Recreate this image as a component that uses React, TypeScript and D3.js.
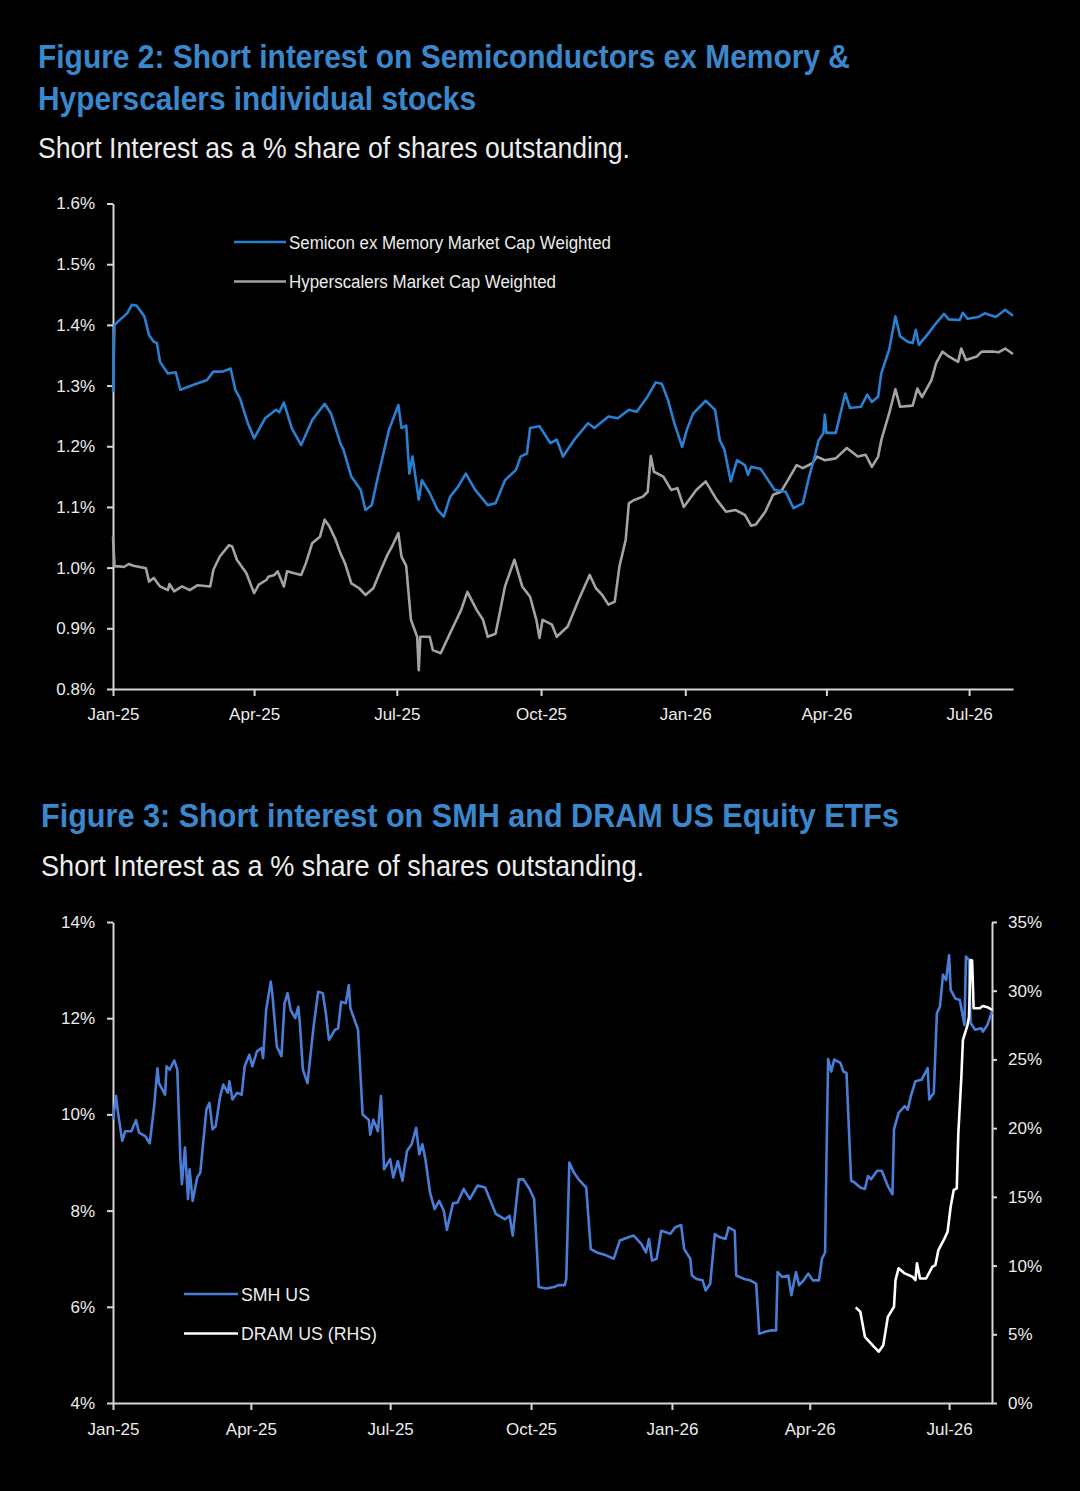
import { useEffect, useRef } from "react";
import * as d3 from "d3";

type Row = [string, number];

// Figure 2 - short interest, % of shares outstanding
const semiconExMemory: Row[] = [
  ["2025-01-01", 1.29], ["2025-01-02", 1.4], ["2025-01-04", 1.405], ["2025-01-10", 1.419],
  ["2025-01-13", 1.433], ["2025-01-16", 1.432], ["2025-01-21", 1.414], ["2025-01-24", 1.383],
  ["2025-01-27", 1.372], ["2025-01-29", 1.37], ["2025-01-31", 1.339], ["2025-02-05", 1.32],
  ["2025-02-10", 1.322], ["2025-02-13", 1.293], ["2025-02-21", 1.301], ["2025-03-02", 1.309],
  ["2025-03-06", 1.323], ["2025-03-12", 1.323], ["2025-03-17", 1.328], ["2025-03-20", 1.293],
  ["2025-03-23", 1.279], ["2025-03-28", 1.238], ["2025-04-01", 1.213], ["2025-04-08", 1.246],
  ["2025-04-15", 1.26], ["2025-04-17", 1.256], ["2025-04-20", 1.272], ["2025-04-25", 1.23],
  ["2025-05-01", 1.202], ["2025-05-08", 1.243], ["2025-05-16", 1.27], ["2025-05-20", 1.254],
  ["2025-05-26", 1.205], ["2025-05-28", 1.194], ["2025-06-02", 1.15], ["2025-06-08", 1.128],
  ["2025-06-11", 1.095], ["2025-06-15", 1.103], ["2025-06-19", 1.15], ["2025-06-26", 1.227],
  ["2025-07-02", 1.268], ["2025-07-04", 1.23], ["2025-07-07", 1.234], ["2025-07-09", 1.155],
  ["2025-07-11", 1.183], ["2025-07-15", 1.112], ["2025-07-17", 1.144], ["2025-07-22", 1.123],
  ["2025-07-27", 1.095], ["2025-07-31", 1.084], ["2025-08-04", 1.117], ["2025-08-09", 1.133],
  ["2025-08-14", 1.155], ["2025-08-20", 1.128], ["2025-08-28", 1.103], ["2025-09-02", 1.106],
  ["2025-09-08", 1.144], ["2025-09-15", 1.161], ["2025-09-18", 1.183], ["2025-09-22", 1.188],
  ["2025-09-24", 1.23], ["2025-09-30", 1.233], ["2025-10-07", 1.205], ["2025-10-11", 1.211],
  ["2025-10-15", 1.183], ["2025-10-22", 1.21], ["2025-10-31", 1.238], ["2025-11-04", 1.23],
  ["2025-11-13", 1.249], ["2025-11-19", 1.246], ["2025-11-26", 1.26], ["2025-12-01", 1.257],
  ["2025-12-08", 1.282], ["2025-12-13", 1.305], ["2025-12-17", 1.303], ["2025-12-21", 1.276],
  ["2025-12-25", 1.238], ["2025-12-30", 1.199], ["2026-01-02", 1.227], ["2026-01-06", 1.254],
  ["2026-01-14", 1.275], ["2026-01-20", 1.26], ["2026-01-23", 1.21], ["2026-01-26", 1.194],
  ["2026-01-30", 1.142], ["2026-02-03", 1.177], ["2026-02-08", 1.169], ["2026-02-10", 1.153],
  ["2026-02-12", 1.166], ["2026-02-18", 1.163], ["2026-02-27", 1.128], ["2026-03-06", 1.125],
  ["2026-03-11", 1.098], ["2026-03-17", 1.106], ["2026-03-21", 1.15], ["2026-03-25", 1.188],
  ["2026-03-27", 1.21], ["2026-03-30", 1.221], ["2026-03-31", 1.252], ["2026-04-01", 1.222],
  ["2026-04-07", 1.222], ["2026-04-13", 1.287], ["2026-04-16", 1.263], ["2026-04-23", 1.265],
  ["2026-04-27", 1.285], ["2026-04-30", 1.273], ["2026-05-04", 1.282], ["2026-05-06", 1.32],
  ["2026-05-11", 1.359], ["2026-05-15", 1.414], ["2026-05-18", 1.381], ["2026-05-23", 1.372],
  ["2026-05-26", 1.37], ["2026-05-28", 1.392], ["2026-05-30", 1.367], ["2026-06-05", 1.386],
  ["2026-06-10", 1.403], ["2026-06-15", 1.418], ["2026-06-18", 1.409], ["2026-06-25", 1.408],
  ["2026-06-27", 1.42], ["2026-06-30", 1.41], ["2026-07-07", 1.413], ["2026-07-11", 1.419],
  ["2026-07-18", 1.413], ["2026-07-24", 1.425], ["2026-07-29", 1.415],
];

const hyperscalers: Row[] = [
  ["2025-01-01", 1.051], ["2025-01-02", 1.002], ["2025-01-05", 1.002], ["2025-01-08", 1.001],
  ["2025-01-11", 1.006], ["2025-01-14", 1.003], ["2025-01-22", 0.999], ["2025-01-24", 0.977],
  ["2025-01-27", 0.983], ["2025-01-31", 0.969], ["2025-02-05", 0.963], ["2025-02-06", 0.973],
  ["2025-02-09", 0.961], ["2025-02-14", 0.969], ["2025-02-19", 0.963], ["2025-02-24", 0.971],
  ["2025-03-04", 0.969], ["2025-03-06", 0.996], ["2025-03-10", 1.018], ["2025-03-16", 1.037],
  ["2025-03-18", 1.035], ["2025-03-21", 1.013], ["2025-03-27", 0.991], ["2025-04-01", 0.958],
  ["2025-04-04", 0.972], ["2025-04-09", 0.98], ["2025-04-10", 0.985], ["2025-04-14", 0.988],
  ["2025-04-16", 0.994], ["2025-04-20", 0.969], ["2025-04-22", 0.994], ["2025-04-26", 0.991],
  ["2025-05-01", 0.988], ["2025-05-04", 1.007], ["2025-05-08", 1.04], ["2025-05-13", 1.051],
  ["2025-05-16", 1.079], ["2025-05-19", 1.068], ["2025-05-23", 1.046], ["2025-05-26", 1.024],
  ["2025-05-29", 1.007], ["2025-06-02", 0.974], ["2025-06-07", 0.966], ["2025-06-11", 0.955],
  ["2025-06-16", 0.966], ["2025-06-20", 0.991], ["2025-06-25", 1.021], ["2025-06-28", 1.035],
  ["2025-07-02", 1.057], ["2025-07-04", 1.018], ["2025-07-07", 1.003], ["2025-07-10", 0.914],
  ["2025-07-14", 0.886], ["2025-07-15", 0.831], ["2025-07-16", 0.886], ["2025-07-22", 0.886],
  ["2025-07-24", 0.864], ["2025-07-29", 0.859], ["2025-08-02", 0.881], ["2025-08-06", 0.903],
  ["2025-08-11", 0.93], ["2025-08-15", 0.96], ["2025-08-21", 0.93], ["2025-08-25", 0.914],
  ["2025-08-28", 0.886], ["2025-09-02", 0.891], ["2025-09-08", 0.969], ["2025-09-14", 1.013],
  ["2025-09-19", 0.969], ["2025-09-24", 0.952], ["2025-09-28", 0.914], ["2025-09-30", 0.884],
  ["2025-10-02", 0.914], ["2025-10-08", 0.906], ["2025-10-11", 0.886], ["2025-10-18", 0.903],
  ["2025-10-25", 0.947], ["2025-11-01", 0.988], ["2025-11-05", 0.966], ["2025-11-09", 0.955],
  ["2025-11-13", 0.939], ["2025-11-17", 0.944], ["2025-11-20", 1.002], ["2025-11-24", 1.046],
  ["2025-11-26", 1.106], ["2025-11-29", 1.111], ["2025-12-05", 1.117], ["2025-12-08", 1.125],
  ["2025-12-10", 1.184], ["2025-12-12", 1.158], ["2025-12-18", 1.15], ["2025-12-23", 1.128],
  ["2025-12-27", 1.131], ["2025-12-31", 1.1], ["2026-01-08", 1.128], ["2026-01-14", 1.142],
  ["2026-01-21", 1.112], ["2026-01-27", 1.092], ["2026-02-02", 1.095], ["2026-02-08", 1.087],
  ["2026-02-12", 1.069], ["2026-02-15", 1.071], ["2026-02-21", 1.092], ["2026-02-26", 1.12],
  ["2026-03-03", 1.125], ["2026-03-07", 1.142], ["2026-03-13", 1.169], ["2026-03-17", 1.164],
  ["2026-03-23", 1.172], ["2026-03-26", 1.183], ["2026-03-31", 1.177], ["2026-04-07", 1.18],
  ["2026-04-14", 1.197], ["2026-04-21", 1.183], ["2026-04-26", 1.186], ["2026-04-30", 1.166],
  ["2026-05-04", 1.183], ["2026-05-06", 1.21], ["2026-05-11", 1.254], ["2026-05-15", 1.294],
  ["2026-05-18", 1.265], ["2026-05-26", 1.267], ["2026-05-29", 1.295], ["2026-06-01", 1.281],
  ["2026-06-07", 1.309], ["2026-06-10", 1.337], ["2026-06-14", 1.356], ["2026-06-18", 1.348],
  ["2026-06-24", 1.339], ["2026-06-26", 1.361], ["2026-06-29", 1.342], ["2026-07-06", 1.348],
  ["2026-07-09", 1.356], ["2026-07-16", 1.356], ["2026-07-20", 1.355], ["2026-07-24", 1.361],
  ["2026-07-29", 1.352],
];

const fig2Ticks = [0.8, 0.9, 1.0, 1.1, 1.2, 1.3, 1.4, 1.5, 1.6];

// Figure 3 - SMH (left axis) and DRAM (right axis)
const smhUS: Row[] = [
  ["2025-01-01", 9.9], ["2025-01-03", 10.38], ["2025-01-04", 10.1], ["2025-01-07", 9.45],
  ["2025-01-09", 9.65], ["2025-01-13", 9.65], ["2025-01-16", 9.88], ["2025-01-18", 9.62],
  ["2025-01-22", 9.55], ["2025-01-25", 9.4], ["2025-01-28", 10.21], ["2025-01-30", 10.96],
  ["2025-01-31", 10.65], ["2025-02-04", 10.41], ["2025-02-05", 11.0], ["2025-02-07", 10.93],
  ["2025-02-10", 11.12], ["2025-02-12", 10.93], ["2025-02-14", 9.07], ["2025-02-15", 8.55],
  ["2025-02-17", 9.31], ["2025-02-19", 8.24], ["2025-02-20", 8.86], ["2025-02-22", 8.2],
  ["2025-02-25", 8.69], ["2025-02-27", 8.79], ["2025-03-03", 10.1], ["2025-03-05", 10.24],
  ["2025-03-07", 9.69], ["2025-03-09", 9.75], ["2025-03-12", 10.38], ["2025-03-14", 10.62],
  ["2025-03-17", 10.45], ["2025-03-18", 10.69], ["2025-03-20", 10.31], ["2025-03-23", 10.45],
  ["2025-03-26", 10.41], ["2025-03-28", 11.0], ["2025-03-31", 11.24], ["2025-04-02", 11.0],
  ["2025-04-05", 11.31], ["2025-04-08", 11.38], ["2025-04-09", 11.17], ["2025-04-11", 12.17],
  ["2025-04-14", 12.76], ["2025-04-15", 12.52], ["2025-04-18", 11.41], ["2025-04-21", 11.21],
  ["2025-04-23", 12.31], ["2025-04-25", 12.52], ["2025-04-27", 12.17], ["2025-04-30", 12.0],
  ["2025-05-02", 12.24], ["2025-05-03", 11.9], ["2025-05-05", 10.93], ["2025-05-08", 10.65],
  ["2025-05-12", 11.83], ["2025-05-15", 12.55], ["2025-05-18", 12.52], ["2025-05-20", 12.1],
  ["2025-05-22", 11.55], ["2025-05-26", 11.76], ["2025-05-28", 11.79], ["2025-05-30", 12.34],
  ["2025-06-02", 12.31], ["2025-06-04", 12.69], ["2025-06-05", 12.21], ["2025-06-10", 11.76],
  ["2025-06-13", 10.0], ["2025-06-17", 9.89], ["2025-06-18", 9.58], ["2025-06-20", 9.89],
  ["2025-06-23", 9.65], ["2025-06-25", 10.38], ["2025-06-26", 9.69], ["2025-06-27", 8.86],
  ["2025-07-01", 9.07], ["2025-07-03", 8.69], ["2025-07-06", 9.03], ["2025-07-09", 8.62],
  ["2025-07-12", 9.24], ["2025-07-15", 9.38], ["2025-07-18", 9.72], ["2025-07-20", 9.17],
  ["2025-07-22", 9.38], ["2025-07-24", 9.07], ["2025-07-27", 8.38], ["2025-07-30", 8.03],
  ["2025-08-02", 8.2], ["2025-08-05", 8.0], ["2025-08-07", 7.6], ["2025-08-11", 8.15],
  ["2025-08-14", 8.17], ["2025-08-18", 8.45], ["2025-08-22", 8.24], ["2025-08-27", 8.52],
  ["2025-09-01", 8.48], ["2025-09-08", 7.93], ["2025-09-14", 7.82], ["2025-09-17", 7.89],
  ["2025-09-19", 7.48], ["2025-09-23", 8.65], ["2025-09-26", 8.65], ["2025-09-30", 8.45],
  ["2025-10-03", 8.24], ["2025-10-05", 7.07], ["2025-10-06", 6.41], ["2025-10-11", 6.38],
  ["2025-10-16", 6.41], ["2025-10-19", 6.45], ["2025-10-23", 6.45], ["2025-10-24", 6.58],
  ["2025-10-26", 9.0], ["2025-10-29", 8.79], ["2025-11-01", 8.65], ["2025-11-06", 8.48],
  ["2025-11-09", 7.2], ["2025-11-13", 7.13], ["2025-11-19", 7.07], ["2025-11-24", 7.0],
  ["2025-11-28", 7.38], ["2025-12-04", 7.45], ["2025-12-07", 7.48], ["2025-12-12", 7.31],
  ["2025-12-15", 7.13], ["2025-12-17", 7.41], ["2025-12-19", 6.96], ["2025-12-22", 7.0],
  ["2025-12-25", 7.58], ["2025-12-28", 7.55], ["2025-12-31", 7.52], ["2026-01-03", 7.65],
  ["2026-01-07", 7.7], ["2026-01-09", 7.2], ["2026-01-13", 7.0], ["2026-01-14", 6.65],
  ["2026-01-17", 6.58], ["2026-01-21", 6.55], ["2026-01-23", 6.34], ["2026-01-26", 6.48],
  ["2026-01-29", 7.51], ["2026-02-01", 7.45], ["2026-02-05", 7.41], ["2026-02-07", 7.65],
  ["2026-02-11", 7.58], ["2026-02-12", 6.65], ["2026-02-17", 6.58], ["2026-02-21", 6.55],
  ["2026-02-25", 6.48], ["2026-02-27", 5.44], ["2026-03-04", 5.49], ["2026-03-07", 5.51],
  ["2026-03-10", 5.51], ["2026-03-11", 6.72], ["2026-03-14", 6.62], ["2026-03-18", 6.65],
  ["2026-03-20", 6.24], ["2026-03-23", 6.72], ["2026-03-25", 6.45], ["2026-03-28", 6.55],
  ["2026-03-31", 6.69], ["2026-04-03", 6.55], ["2026-04-07", 6.55], ["2026-04-09", 7.0],
  ["2026-04-11", 7.13], ["2026-04-12", 9.27], ["2026-04-13", 11.15], ["2026-04-15", 10.89],
  ["2026-04-17", 11.14], ["2026-04-21", 11.07], ["2026-04-23", 10.89], ["2026-04-25", 10.86],
  ["2026-04-28", 8.62], ["2026-04-30", 8.59], ["2026-05-04", 8.48], ["2026-05-07", 8.45],
  ["2026-05-09", 8.72], ["2026-05-11", 8.65], ["2026-05-15", 8.83], ["2026-05-18", 8.83],
  ["2026-05-22", 8.51], ["2026-05-25", 8.34], ["2026-05-26", 9.69], ["2026-05-29", 10.03],
  ["2026-06-02", 10.17], ["2026-06-04", 10.1], ["2026-06-06", 10.38], ["2026-06-09", 10.69],
  ["2026-06-13", 10.72], ["2026-06-17", 10.96], ["2026-06-18", 10.31], ["2026-06-21", 10.45],
  ["2026-06-23", 12.1], ["2026-06-25", 12.24], ["2026-06-27", 12.9], ["2026-06-29", 12.79],
  ["2026-07-01", 13.31], ["2026-07-02", 12.59], ["2026-07-05", 12.41], ["2026-07-08", 12.38],
  ["2026-07-11", 11.86], ["2026-07-12", 13.28], ["2026-07-14", 13.21], ["2026-07-15", 11.9],
  ["2026-07-18", 11.76], ["2026-07-22", 11.79], ["2026-07-23", 11.72], ["2026-07-26", 11.86],
  ["2026-07-29", 12.14],
];

const dramUS: Row[] = [
  ["2026-05-01", 6.96], ["2026-05-04", 6.64], ["2026-05-07", 4.82], ["2026-05-10", 4.45],
  ["2026-05-13", 4.09], ["2026-05-16", 3.73], ["2026-05-19", 4.21], ["2026-05-22", 6.27],
  ["2026-05-26", 7.0], ["2026-05-27", 8.94], ["2026-05-29", 9.8], ["2026-06-02", 9.43],
  ["2026-06-07", 9.19], ["2026-06-09", 8.94], ["2026-06-10", 10.16], ["2026-06-12", 9.06],
  ["2026-06-16", 9.06], ["2026-06-20", 9.91], ["2026-06-22", 10.03], ["2026-06-24", 11.13],
  ["2026-06-28", 11.98], ["2026-06-30", 12.46], ["2026-07-02", 14.28], ["2026-07-04", 15.5],
  ["2026-07-06", 15.62], ["2026-07-07", 19.62], ["2026-07-09", 23.74], ["2026-07-10", 26.41],
  ["2026-07-13", 27.5], ["2026-07-14", 28.1], ["2026-07-15", 32.23], ["2026-07-16", 32.2],
  ["2026-07-17", 28.72], ["2026-07-21", 28.72], ["2026-07-23", 28.89], ["2026-07-26", 28.8],
  ["2026-07-29", 28.6],
];

const fig3LeftTicks = [4, 6, 8, 10, 12, 14];
const fig3RightTicks = [0, 5, 10, 15, 20, 25, 30, 35];

const FONT = "'Liberation Sans', Arial, sans-serif";
const TITLE_BLUE = "#3b87cc";
const TEXT = "#ececec";
const AXIS = "#d6d6d6";

const parseDay = d3.timeParse("%Y-%m-%d");
const toPoints = (rows: Row[]) => rows.map(([d, v]) => [parseDay(d) as Date, v] as [Date, number]);

const styleAxis = (g: d3.Selection<SVGGElement, unknown, null, undefined>) => {
  g.attr("font-family", FONT).attr("font-size", 17).attr("color", AXIS);
  g.select(".domain").attr("stroke-width", 2);
  g.selectAll(".tick line").attr("stroke-width", 2);
  g.selectAll(".tick text").attr("fill", TEXT);
};

const addText = (
  g: d3.Selection<SVGGElement, unknown, null, undefined>,
  x: number, y: number, txt: string, size: number, weight: string, fill: string, width: number
) => {
  g.append("text")
    .attr("x", x).attr("y", y)
    .attr("font-family", FONT).attr("font-size", size).attr("font-weight", weight)
    .attr("fill", fill)
    .attr("textLength", width).attr("lengthAdjust", "spacingAndGlyphs")
    .text(txt);
};

export default function App() {
  const svgRef = useRef<SVGSVGElement | null>(null);

  useEffect(() => {
    if (!svgRef.current) return;
    const svg = d3.select(svgRef.current);
    svg.selectAll("*").remove();
    const root = svg.append("g");

    const start = new Date(2025, 0, 1);
    const end = new Date(2026, 6, 29);
    const fmt = d3.timeFormat("%b-%y");
    const line = (x: d3.ScaleTime<number, number>, y: d3.ScaleLinear<number, number>) =>
      d3.line<[Date, number]>().x(d => x(d[0])).y(d => y(d[1]));

    // ---------- Figure 2 ----------
    addText(root, 38, 68, "Figure 2: Short interest on Semiconductors ex Memory &", 34, "bold", TITLE_BLUE, 812);
    addText(root, 38, 110, "Hyperscalers individual stocks", 34, "bold", TITLE_BLUE, 438);
    addText(root, 38, 158, "Short Interest as a % share of shares outstanding.", 29, "normal", TEXT, 592);

    const x2 = d3.scaleTime().domain([start, end]).range([113, 1013]);
    const y2 = d3.scaleLinear().domain([0.8, 1.6]).range([689, 203.5]);

    const gy2 = root.append("g").attr("transform", "translate(113,0)")
      .call(d3.axisLeft(y2).tickValues(fig2Ticks).tickSize(6).tickSizeOuter(0).tickPadding(12)
        .tickFormat(d => `${(+d).toFixed(1)}%`));
    styleAxis(gy2);
    const gx2 = root.append("g").attr("transform", "translate(0,689)")
      .call(d3.axisBottom(x2).ticks(d3.timeMonth.every(3)).tickSize(7).tickSizeOuter(0).tickPadding(12)
        .tickFormat(d => fmt(d as Date)));
    styleAxis(gx2);

    root.append("path").datum(toPoints(hyperscalers))
      .attr("d", line(x2, y2)).attr("fill", "none")
      .attr("stroke", "#a3a3a3").attr("stroke-width", 2.6).attr("stroke-linejoin", "round");
    root.append("path").datum(toPoints(semiconExMemory))
      .attr("d", line(x2, y2)).attr("fill", "none")
      .attr("stroke", "#2b7fd1").attr("stroke-width", 2.6).attr("stroke-linejoin", "round");

    const legend2 = [
      { label: "Semicon ex Memory Market Cap Weighted", color: "#2b7fd1", w: 322 },
      { label: "Hyperscalers Market Cap Weighted", color: "#a3a3a3", w: 267 },
    ];
    legend2.forEach((d, i) => {
      const ly = 242 + i * 39.5;
      root.append("line").attr("x1", 234).attr("x2", 286).attr("y1", ly).attr("y2", ly)
        .attr("stroke", d.color).attr("stroke-width", 2.6);
      addText(root, 289, ly + 6.5, d.label, 18, "normal", TEXT, d.w);
    });

    // ---------- Figure 3 ----------
    addText(root, 41, 827, "Figure 3: Short interest on SMH and DRAM US Equity ETFs", 34, "bold", TITLE_BLUE, 858);
    addText(root, 41, 876, "Short Interest as a % share of shares outstanding.", 29, "normal", TEXT, 603);

    const x3 = d3.scaleTime().domain([start, end]).range([113, 992]);
    const y3 = d3.scaleLinear().domain([4, 14]).range([1403, 922]);
    const y3r = d3.scaleLinear().domain([0, 35]).range([1403, 922]);

    const gy3 = root.append("g").attr("transform", "translate(113,0)")
      .call(d3.axisLeft(y3).tickValues(fig3LeftTicks).tickSize(6).tickSizeOuter(0).tickPadding(12)
        .tickFormat(d => `${d}%`));
    styleAxis(gy3);
    const gy3r = root.append("g").attr("transform", "translate(992,0)")
      .call(d3.axisRight(y3r).tickValues(fig3RightTicks).tickSize(5).tickSizeOuter(0).tickPadding(11)
        .tickFormat(d => `${d}%`));
    styleAxis(gy3r);
    const gx3 = root.append("g").attr("transform", "translate(0,1403)")
      .call(d3.axisBottom(x3).ticks(d3.timeMonth.every(3)).tickSize(7).tickSizeOuter(0).tickPadding(13)
        .tickFormat(d => fmt(d as Date)));
    styleAxis(gx3);

    root.append("path").datum(toPoints(smhUS))
      .attr("d", line(x3, y3)).attr("fill", "none")
      .attr("stroke", "#4a7dd6").attr("stroke-width", 2.6).attr("stroke-linejoin", "round");
    root.append("path").datum(toPoints(dramUS))
      .attr("d", line(x3, y3r)).attr("fill", "none")
      .attr("stroke", "#ffffff").attr("stroke-width", 2.6).attr("stroke-linejoin", "round");

    const legend3 = [
      { label: "SMH US", color: "#4a7dd6", w: 69 },
      { label: "DRAM US (RHS)", color: "#ffffff", w: 136 },
    ];
    legend3.forEach((d, i) => {
      const ly = 1294 + i * 39.5;
      root.append("line").attr("x1", 184).attr("x2", 238).attr("y1", ly).attr("y2", ly)
        .attr("stroke", d.color).attr("stroke-width", 2.6);
      addText(root, 241, ly + 6.5, d.label, 18, "normal", TEXT, d.w);
    });
  }, []);

  return (
    <div>
      <style>{`body{margin:0;background:#000;}`}</style>
      <svg ref={svgRef} width={1080} height={1491} style={{ display: "block", background: "#000" }} />
    </div>
  );
}
